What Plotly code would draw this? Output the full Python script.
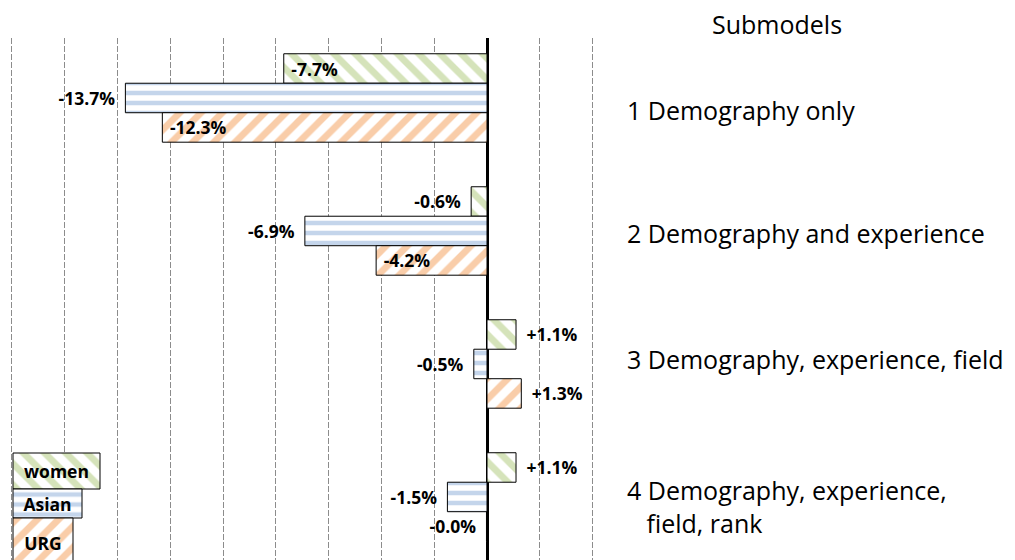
import plotly.graph_objects as go

# ---------------- data ----------------
categories = [
    "1 Demography only",
    "2 Demography and experience",
    "3 Demography, experience, field",
    "4 Demography, experience,<br>\u00a0\u00a0\u00a0field, rank",
]
series_names = ["women", "Asian", "URG"]
women = [-7.7, -0.6, 1.1, 1.1]
asian = [-13.7, -6.9, -0.5, -1.5]
urg = [-12.3, -4.2, 1.3, -0.02]
women_label_pos = ["inside", "outside", "outside", "outside"]
asian_label_pos = ["outside", "outside", "outside", "outside"]
urg_label_pos = ["inside", "inside", "outside", "outside"]
grid_ticks = list(range(-18, 5, 2))
title_text = "Submodels"

# ---------------- style ----------------
W, H = 1015, 560
PLOT_L, PLOT_R, PLOT_T, PLOT_B = 0, 610, 38, 560
X_RANGE = [-18.45, 4.66]
Y_RANGE = [3.474, -0.451]
FONT = "Open Sans"
LABEL_SIZE = 17.5
CAT_SIZE = 25
patterns = {
    "women": dict(shape="\\", fgcolor="#d5e3ba", size=15, solidity=0.45),
    "Asian": dict(shape="-", fgcolor="#c4d5eb", size=10, solidity=0.45),
    "URG": dict(shape="/", fgcolor="#f9cda9", size=15, solidity=0.45),
}
cat_yshift = [-12, -2, 5, -10]
NB = "\u00a0"
GAP_OUT = "\u00a0\u2009"


def make_text(vals, pos):
    out = []
    for v, p in zip(vals, pos):
        s = f"{v:+.1f}%"
        if p == "inside":
            out.append(NB + s)
        elif v < 0:
            out.append(s + GAP_OUT)
        else:
            out.append(GAP_OUT + s)
    return out


fig = go.Figure()
for name, vals, pos in [("women", women, women_label_pos),
                        ("Asian", asian, asian_label_pos),
                        ("URG", urg, urg_label_pos)]:
    p = patterns[name]
    fig.add_trace(go.Bar(
        name=name, orientation="h", x=vals, y=categories,
        marker=dict(color="white", line=dict(color="black", width=1),
                    pattern=dict(shape=p["shape"], fgcolor=p["fgcolor"], bgcolor="white",
                                 size=p["size"], solidity=p["solidity"], fillmode="replace")),
        text=make_text(vals, pos), textposition=pos, insidetextanchor="end",
        textfont=dict(family=FONT, size=LABEL_SIZE, color="black", weight="bold"),
        constraintext="none", cliponaxis=False, showlegend=False, hoverinfo="skip",
    ))

# legend drawn as small bars (bottom-left)
LEG_DOM_W = 183
LEG_DOM_H = 130.5
leg_len = [87, 69, 60]
leg_center = [41.5, 74, 113.5]
leg_thick = [36, 29, 50]
fig.add_trace(go.Bar(
    orientation="h", x=leg_len, base=13, y=leg_center, width=leg_thick,
    xaxis="x2", yaxis="y2",
    marker=dict(color="white", line=dict(color="black", width=1),
                pattern=dict(shape=[patterns[n]["shape"] for n in series_names],
                             fgcolor=[patterns[n]["fgcolor"] for n in series_names],
                             bgcolor="white",
                             size=[patterns[n]["size"] for n in series_names],
                             solidity=[patterns[n]["solidity"] for n in series_names],
                             fillmode="replace")),
    text=series_names, textposition="inside", insidetextanchor="middle",
    textfont=dict(family=FONT, size=LABEL_SIZE, color="black", weight="bold"),
    constraintext="none", showlegend=False, hoverinfo="skip",
))

plot_w = PLOT_R - PLOT_L
plot_h = PLOT_B - PLOT_T

annotations = []
for i, c in enumerate(categories):
    annotations.append(dict(
        text=c, xref="paper", x=625 / plot_w, xanchor="left",
        yref="y", y=i, yanchor="middle", yshift=cat_yshift[i],
        showarrow=False, align="left",
        font=dict(family=FONT, size=CAT_SIZE, color="black"),
    ))
annotations.append(dict(
    text=title_text, xref="paper", x=776.5 / plot_w, xanchor="center",
    yref="paper", y=1 + (PLOT_T - 24) / plot_h, yanchor="middle",
    showarrow=False, font=dict(family=FONT, size=CAT_SIZE, color="black"),
))

fig.update_layout(
    width=W, height=H, autosize=False,
    margin=dict(l=PLOT_L, r=W - PLOT_R, t=PLOT_T, b=H - PLOT_B, pad=0),
    paper_bgcolor="white", plot_bgcolor="rgba(0,0,0,0)",
    barmode="group", bargap=0.335, bargroupgap=0,
    showlegend=False,
    xaxis=dict(range=X_RANGE, tickmode="array", tickvals=grid_ticks, showticklabels=False,
               ticks="", showgrid=True, gridcolor="#8c8c8c", gridwidth=1, griddash="6px,2px",
               zeroline=True, zerolinecolor="black", zerolinewidth=3, showline=False),
    yaxis=dict(type="category", range=Y_RANGE, showticklabels=False, ticks="",
               showgrid=False, zeroline=False, showline=False),
    xaxis2=dict(domain=[0, LEG_DOM_W / plot_w], range=[0, LEG_DOM_W], anchor="y2", visible=False),
    yaxis2=dict(domain=[0, LEG_DOM_H / plot_h], range=[LEG_DOM_H, 0], anchor="x2", visible=False),
    annotations=annotations,
    font=dict(family=FONT),
)

fig.write_html("out.html", config={"displayModeBar": False},
               post_script="document.body.style.margin='0px';")
